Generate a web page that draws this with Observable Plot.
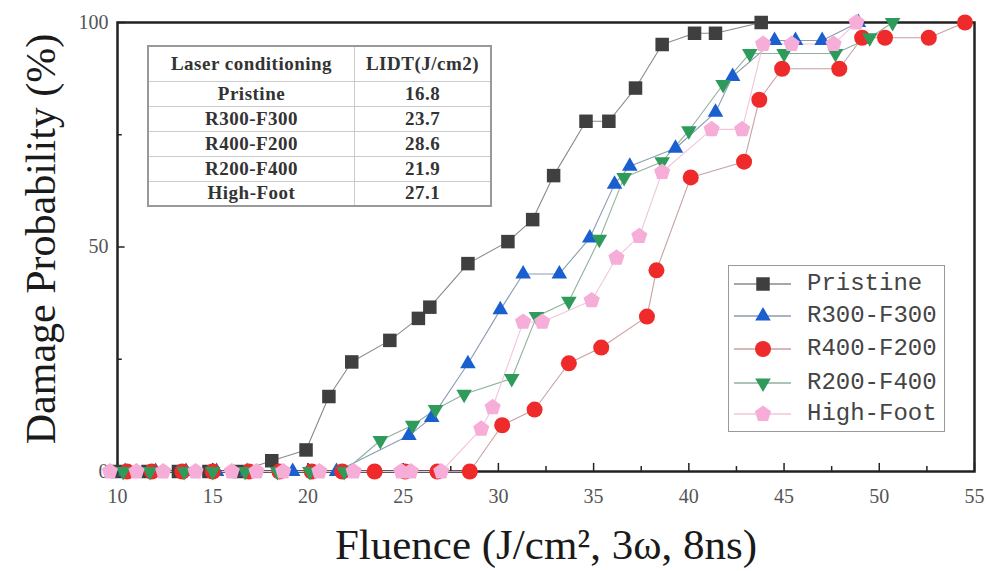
<!DOCTYPE html>
<html>
<head>
<meta charset="utf-8">
<script src="https://cdn.jsdelivr.net/npm/d3@7"></script>
<script src="https://cdn.jsdelivr.net/npm/@observablehq/plot@0.6"></script>
<style>
  html, body { margin: 0; padding: 0; background: #fff; }
  #wrap { position: relative; width: 992px; height: 571px; overflow: hidden; }
  #tbl { position: absolute; left: 147px; top: 45px; width: 345px; height: 162px;
         border-collapse: collapse; border: 2px solid #999; background: #fff;
         font-family: "Liberation Serif", serif; font-weight: bold; font-size: 19px; letter-spacing: 0.5px; color: #333; }
  #tbl td { border: 1px solid #ccc; text-align: center; padding: 0; }
  #legend { position: absolute; left: 728px; top: 265px; width: 215px; height: 165px;
            border: 1.5px solid #999; background: #fff; }
  .entry { position: absolute; left: 0; height: 30px; width: 215px; }
  .entry svg { position: absolute; left: 4px; top: 0; }
  .entry span { position: absolute; left: 78px; top: 1px; font-family: "Liberation Mono", monospace;
                font-size: 24px; color: #444; line-height: 28px; white-space: nowrap; }
</style>
</head>
<body>
<div id="wrap"></div>
<script>
// ---------- data ----------
const pristineX = [10.0, 11.6, 13.2, 14.8, 16.4, 18.1, 19.9, 21.1, 22.3, 24.3, 25.8, 26.4, 28.4, 30.5, 31.8, 32.9, 34.6, 35.8, 37.2, 38.6, 40.3, 41.4, 43.8];
const pristineY = [0, 0, 0, 0, 0, 2.4, 4.8, 16.7, 24.4, 29.2, 34.1, 36.6, 46.3, 51.2, 56.1, 65.9, 78.0, 78.0, 85.4, 95.1, 97.6, 97.6, 100];

const r300X = [10.4, 12.0, 13.6, 15.2, 16.8, 19.2, 21.5, 25.3, 26.5, 28.4, 30.1, 31.3, 33.2, 34.8, 36.1, 36.9, 39.3, 41.4, 42.3, 44.5, 45.6, 47.0, 48.9];
const r300Y = [0, 0, 0, 0, 0, 0, 0, 8, 12, 24, 36, 44, 44, 52, 64, 68, 72, 80, 88, 96, 96, 96, 100];

const r400X = [10.5, 11.8, 13.4, 15.0, 16.9, 18.5, 20.2, 21.8, 23.5, 25.1, 26.8, 28.5, 30.2, 31.9, 33.7, 35.4, 37.8, 38.3, 40.1, 42.9, 43.7, 44.9, 47.9, 49.1, 50.3, 52.6, 54.5];
const r400Y = [0, 0, 0, 0, 0, 0, 0, 0, 0, 0, 0, 0, 10.3, 13.8, 24.1, 27.6, 34.5, 44.8, 65.5, 69.0, 82.8, 89.7, 89.7, 96.6, 96.6, 96.6, 100];

const r200X = [10.3, 11.7, 13.5, 15.0, 16.7, 18.4, 20.1, 21.9, 23.8, 25.5, 26.7, 28.2, 30.7, 32.0, 33.7, 35.3, 36.6, 38.6, 40.0, 41.8, 43.2, 45.0, 47.7, 49.5, 50.7];
const r200Y = [0, 0, 0, 0, 0, 0, 0, 0, 6.9, 10.3, 13.8, 17.2, 20.7, 34.5, 37.9, 51.7, 65.5, 69.0, 75.9, 86.2, 93.1, 93.1, 93.1, 96.6, 100];

const highFootX = [9.6, 11.0, 12.4, 14.1, 16.0, 17.3, 18.7, 20.6, 22.4, 24.9, 25.4, 27.0, 29.1, 29.7, 31.3, 32.3, 34.9, 36.2, 37.4, 38.6, 41.2, 42.8, 43.9, 45.4, 47.6, 48.8];
const highFootY = [0, 0, 0, 0, 0, 0, 0, 0, 0, 0, 0, 0, 9.5, 14.3, 33.3, 33.3, 38.1, 47.6, 52.4, 66.7, 76.2, 76.2, 95.2, 95.2, 95.2, 100];

const seriesNames = ["Pristine", "R300-F300", "R400-F200", "R200-F400", "High-Foot"];
const tableHeader = ["Laser conditioning", "LIDT(J/cm2)"];
const lidtValues = ["16.8", "23.7", "28.6", "21.9", "27.1"];

const xMajorTicks = [10, 15, 20, 25, 30, 35, 40, 45, 50, 55];
const xMinorTicks = [12.5, 17.5, 22.5, 27.5, 32.5, 37.5, 42.5, 47.5, 52.5];
const yMajorTicks = [0, 50, 100];
const yMinorTicks = [25, 75];

const xTitle = "Fluence (J/cm\u00B2, 3\u03C9, 8ns)";
const yTitle = "Damage Probability (%)";

// ---------- symbols ----------
const rad = size => Math.sqrt(size / Math.PI);
const squareSym = { draw(c, s) { const h = rad(s) * 0.9; c.rect(-h, -h, 2 * h, 2 * h); } };
const upTri = { draw(c, s) { const R = rad(s) * 1.25; const a = R * Math.sin(Math.PI / 3);
  c.moveTo(0, -R); c.lineTo(a, R / 2); c.lineTo(-a, R / 2); c.closePath(); } };
const downTri = { draw(c, s) { const R = rad(s) * 1.25; const a = R * Math.sin(Math.PI / 3);
  c.moveTo(0, R); c.lineTo(a, -R / 2); c.lineTo(-a, -R / 2); c.closePath(); } };
const circleSym = { draw(c, s) { const r = rad(s); c.moveTo(r, 0); c.arc(0, 0, r, 0, 2 * Math.PI); } };
const pentSym = { draw(c, s) { const R = rad(s) * 1.12;
  for (let k = 0; k < 5; k++) { const t = -Math.PI / 2 + k * 2 * Math.PI / 5;
    const px = R * Math.cos(t), py = R * Math.sin(t); if (k === 0) c.moveTo(px, py); else c.lineTo(px, py); }
  c.closePath(); } };

const styles = [
  { xs: pristineX, ys: pristineY, fill: "#3f3f3f", line: "#8a8a8a", sym: squareSym, r: 7.5 },
  { xs: r300X, ys: r300Y, fill: "#1a5fcf", line: "#8a9bb3", sym: upTri, r: 7.2 },
  { xs: r400X, ys: r400Y, fill: "#ee2a2a", line: "#c9a0a0", sym: circleSym, r: 8 },
  { xs: r200X, ys: r200Y, fill: "#2e9b5b", line: "#8fb19c", sym: downTri, r: 7.2 },
  { xs: highFootX, ys: highFootY, fill: "#f6add8", line: "#f1c6dd", sym: pentSym, r: 7.6 }
];
const series = seriesNames.map((name, i) => ({ name, ...styles[i],
  rows: styles[i].xs.map((x, j) => ({ series: name, x, y: styles[i].ys[j] })) }));

// ---------- plot ----------
const marks = [
  Plot.frame({ stroke: "#222", strokeWidth: 2.5 }),
  Plot.axisX({ ticks: xMajorTicks, tickSize: 0, tickPadding: 17, fontSize: 20, color: "#555", label: null }),
  Plot.axisY({ ticks: yMajorTicks, tickSize: 0, tickPadding: 9, fontSize: 20, color: "#555", label: null }),
  Plot.ruleX(xMajorTicks, { x: d => d, y1: 0, y2: 1.8, stroke: "#222", strokeWidth: 1.5 }),
  Plot.ruleX(xMinorTicks, { x: d => d, y1: 0, y2: 1.1, stroke: "#222", strokeWidth: 1.5 }),
  Plot.ruleY(yMajorTicks, { y: d => d, x1: 10, x2: 10.4, stroke: "#222", strokeWidth: 1.5 }),
  Plot.ruleY(yMinorTicks, { y: d => d, x1: 10, x2: 10.25, stroke: "#222", strokeWidth: 1.5 }),
  Plot.text([xTitle], { frameAnchor: "bottom", dy: 74, fontSize: 43, fill: "#1a1a1a", textAnchor: "middle", lineAnchor: "middle" }),
  Plot.text([yTitle], { frameAnchor: "left", dx: -76, dy: -8, rotate: -90, fontSize: 42, fill: "#1a1a1a", textAnchor: "middle", lineAnchor: "middle" })
];
for (const s of series) marks.push(Plot.line(s.rows, { x: "x", y: "y", stroke: s.line, strokeWidth: 1.1 }));
for (const s of series) marks.push(Plot.dot(s.rows, { x: "x", y: "y", symbol: s.sym, r: s.r, fill: s.fill, stroke: "none" }));

const chart = Plot.plot({
  width: 992, height: 571,
  marginLeft: 117, marginRight: 18, marginTop: 22, marginBottom: 100,
  x: { domain: [10, 55] },
  y: { domain: [0, 100] },
  style: { fontFamily: "Liberation Serif, serif", background: "#fff", overflow: "visible" },
  marks
});
const wrap = document.getElementById("wrap");
wrap.appendChild(chart);

// ---------- table ----------
const tbl = document.createElement("table");
tbl.id = "tbl";
const hr = tbl.insertRow(); hr.style.height = "35px";
tableHeader.forEach((t, i) => { const c = hr.insertCell(); c.textContent = t; if (i === 0) c.style.width = "205px"; });
seriesNames.forEach((n, i) => { const r = tbl.insertRow(); r.style.height = "25px";
  r.insertCell().textContent = n; r.insertCell().textContent = lidtValues[i]; });
wrap.appendChild(tbl);

// ---------- legend ----------
const leg = document.createElement("div"); leg.id = "legend";
const entryTops = [3, 35, 68, 102, 133];
series.forEach((s, i) => {
  const e = document.createElement("div"); e.className = "entry"; e.style.top = entryTops[i] + "px";
  const path = d3.symbol().type(s.sym).size(Math.PI * s.r * s.r)();
  e.innerHTML = `<svg width="64" height="30"><line x1="1" x2="58" y1="15" y2="15" stroke="${s.line}" stroke-width="1.3"/>` +
    `<path transform="translate(30,15)" d="${path}" fill="${s.fill}"/></svg><span>${s.name}</span>`;
  leg.appendChild(e);
});
wrap.appendChild(leg);
</script>
</body>
</html>
